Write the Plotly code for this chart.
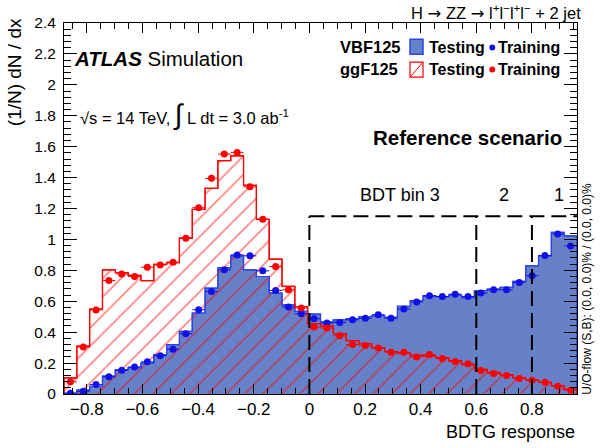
import numpy as np
import plotly.graph_objects as go

# BDTG response histogram, 40 bins
X_MIN, X_MAX, N_BINS = -0.882, 0.962, 40

vbf_test = [0.005, 0.025, 0.05, 0.116, 0.158, 0.17, 0.2, 0.255, 0.32, 0.405,
            0.524, 0.685, 0.818, 0.894, 0.803, 0.76, 0.653, 0.577, 0.534, 0.517,
            0.466, 0.48, 0.487, 0.50, 0.507, 0.496, 0.567, 0.605, 0.635, 0.63,
            0.64, 0.624, 0.668, 0.678, 0.69, 0.728, 0.829, 0.894, 1.046, 1.023]
vbf_train = [0.005, 0.018, 0.061, 0.111, 0.154, 0.175, 0.208, 0.248, 0.29, 0.39,
             0.545, 0.663, 0.803, 0.9, 0.894, 0.797, 0.67, 0.562, 0.519, 0.487,
             0.459, 0.463, 0.48, 0.49, 0.513, 0.49, 0.55, 0.595, 0.635, 0.63,
             0.646, 0.631, 0.653, 0.674, 0.674, 0.722, 0.765, 0.896, 1.035, 0.958]
ggf_test = [0.104, 0.31, 0.55, 0.803, 0.786, 0.767, 0.734, 0.839, 0.85, 1.008,
            1.194, 1.33, 1.51, 1.54, 1.35, 1.13, 0.872, 0.696, 0.565, 0.455,
            0.44, 0.39, 0.345, 0.325, 0.30, 0.275, 0.265, 0.25, 0.245, 0.235,
            0.215, 0.19, 0.16, 0.14, 0.125, 0.105, 0.09, 0.075, 0.055, 0.03]
ggf_train = [0.079, 0.304, 0.544, 0.734, 0.777, 0.76, 0.82, 0.835, 0.853, 1.008,
             1.205, 1.395, 1.552, 1.563, 1.34, 1.13, 0.825, 0.674, 0.556, 0.433,
             0.427, 0.377, 0.32, 0.313, 0.298, 0.27, 0.27, 0.24, 0.255, 0.23,
             0.21, 0.195, 0.152, 0.132, 0.119, 0.1, 0.089, 0.076, 0.05, 0.025]

bdt_cuts = [0.0, 0.6, 0.8]
cut_top = 1.15
bin_labels = ['BDT bin 3', '2', '1']
bin_label_x = [0.325, 0.698, 0.896]
bin_label_y = 1.29

BLUE_FILL = '#6781c8'
BLUE_LINE = '#2a46e6'
BLUE_DOT = '#1010e8'
RED = '#ff0000'
FONT = 'Liberation Sans, Arial, sans-serif'

edges = np.linspace(X_MIN, X_MAX, N_BINS + 1)
centers = 0.5 * (edges[:-1] + edges[1:])
half = 0.5 * (edges[1] - edges[0])

# plot frame in pixels (for placing the text boxes like the root canvas)
L, R, T, B = 64, 577, 22.7, 394.5


def px(x):
    return (x - L) / (R - L)


def py(y):
    return (B - y) / (B - T)


def step(vals):
    xs = [edges[0]] + list(edges) + [edges[-1]]
    ys = [0] + list(vals) + [vals[-1], 0]
    return xs, ys


fig = go.Figure()

xs, ys = step(vbf_test)
fig.add_trace(go.Scatter(x=xs, y=ys, mode='lines', line=dict(shape='hv', color=BLUE_LINE, width=1.2),
                         fill='tozeroy', fillcolor=BLUE_FILL, hoverinfo='skip'))
xs, ys = step(ggf_test)
fig.add_trace(go.Scatter(x=xs, y=ys, mode='lines', line=dict(shape='hv', color=RED, width=1.2),
                         fill='tozeroy', fillcolor='rgba(0,0,0,0)',
                         fillpattern=dict(shape='/', fgcolor=RED, bgcolor='rgba(0,0,0,0)', size=13, solidity=0.12),
                         hoverinfo='skip'))
xs, ys = step(vbf_test)
fig.add_trace(go.Scatter(x=xs, y=ys, mode='lines', line=dict(shape='hv', color=BLUE_LINE, width=1.2), hoverinfo='skip'))
xs, ys = step(ggf_test)
fig.add_trace(go.Scatter(x=xs, y=ys, mode='lines', line=dict(shape='hv', color=RED, width=1.2), hoverinfo='skip'))

for vals, col in [(vbf_train, BLUE_DOT), (ggf_train, RED)]:
    fig.add_trace(go.Scatter(x=centers, y=vals, mode='markers',
                             marker=dict(color=col, size=7),
                             error_x=dict(type='constant', value=half, width=0, thickness=1, color=col)))

# BDT category boundaries
dash = dict(color='black', width=2, dash='15px,7px')
for c in bdt_cuts:
    fig.add_shape(type='line', x0=c, x1=c, y0=0, y1=cut_top, xref='x', yref='y', line=dash)
fig.add_shape(type='line', x0=bdt_cuts[0], x1=X_MAX, y0=cut_top, y1=cut_top, xref='x', yref='y', line=dash)
for txt, xx in zip(bin_labels, bin_label_x):
    fig.add_annotation(x=xx, y=bin_label_y, text=txt, showarrow=False, xref='x', yref='y',
                       font=dict(size=18, color='black', family=FONT))


def label(x, y, text, size, anchor='left', angle=0):
    fig.add_annotation(x=px(x), y=py(y), xref='paper', yref='paper', text=text, showarrow=False,
                       xanchor=anchor, yanchor='middle', textangle=angle,
                       font=dict(size=size, color='black', family=FONT))


arrow = '<span style="font-family:DejaVu Sans">→</span>'
label(583, 12, 'H ' + arrow + ' ZZ ' + arrow + ' l<sup>+</sup>l<sup>−</sup>l<sup>+</sup>l<sup>−</sup> + 2 jet', 16.5, 'right')
label(72, 58, '<b><i>ATLAS</i></b> Simulation', 20.5)
label(78, 114, '√s = 14 TeV, <span style="font-size:28px">∫</span> L dt = 3.0 ab<sup>-1</sup>', 16.5)
label(564, 137, '<b>Reference scenario</b>', 20.5, 'right')

# legend
label(338, 47, '<b>VBF125</b>', 16.5)
label(338, 69, '<b>ggF125</b>', 16.5)
label(427, 47, '<b>Testing</b>', 16)
label(427, 69, '<b>Testing</b>', 16)
label(496, 47, '<b>Training</b>', 16)
label(496, 69, '<b>Training</b>', 16)
fig.add_shape(type='rect', xref='paper', yref='paper', x0=px(410), x1=px(423), y0=py(54), y1=py(39),
              fillcolor=BLUE_FILL, line=dict(color=BLUE_LINE, width=1.5))
fig.add_shape(type='rect', xref='paper', yref='paper', x0=px(410), x1=px(423), y0=py(77), y1=py(62),
              line=dict(color=RED, width=1.2))
fig.add_shape(type='line', xref='paper', yref='paper', x0=px(410), x1=px(423), y0=py(77), y1=py(62),
              line=dict(color=RED, width=1))
for yy, col in [(47.3, BLUE_DOT), (69.3, RED)]:
    fig.add_shape(type='circle', xref='paper', yref='paper', x0=px(489.3), x1=px(495.3),
                  y0=py(yy + 3), y1=py(yy - 3), fillcolor=col, line=dict(width=0))

# axis titles, root style
label(14, 72, '(1/N) dN / dx', 19, 'center', -90)
label(577, 433, 'BDTG response', 18, 'right')
label(587, 289, 'U/O-flow (S,B): (0.0, 0.0)% / (0.0, 0.0)%', 12, 'center', -90)

axis = dict(showline=True, linecolor='black', linewidth=1, mirror='allticks', ticks='inside',
            showgrid=False, zeroline=False, tickcolor='black', tickwidth=1)
fig.update_xaxes(**axis, range=[X_MIN, X_MAX], tick0=0, dtick=0.2, ticklen=10,
                 minor=dict(dtick=0.05, ticklen=6, ticks='inside', tickcolor='black'),
                 tickfont=dict(size=17, family=FONT, color='black'))
fig.update_yaxes(**axis, range=[0, 2.4], tick0=0, dtick=0.2, ticklen=13,
                 minor=dict(dtick=0.04, ticklen=7, ticks='inside', tickcolor='black'),
                 tickfont=dict(size=15.5, family=FONT, color='black'), ticklabelstandoff=4)

fig.update_layout(width=604, height=448, showlegend=False,
                  margin=dict(l=L, r=604 - R, t=T, b=448 - B),
                  paper_bgcolor='white', plot_bgcolor='white')

# page has a default 8px body margin, drop it so the canvas sits at 0,0
fig.write_html('out.html', config={'displayModeBar': False},
               post_script="document.body.style.margin='0';")
